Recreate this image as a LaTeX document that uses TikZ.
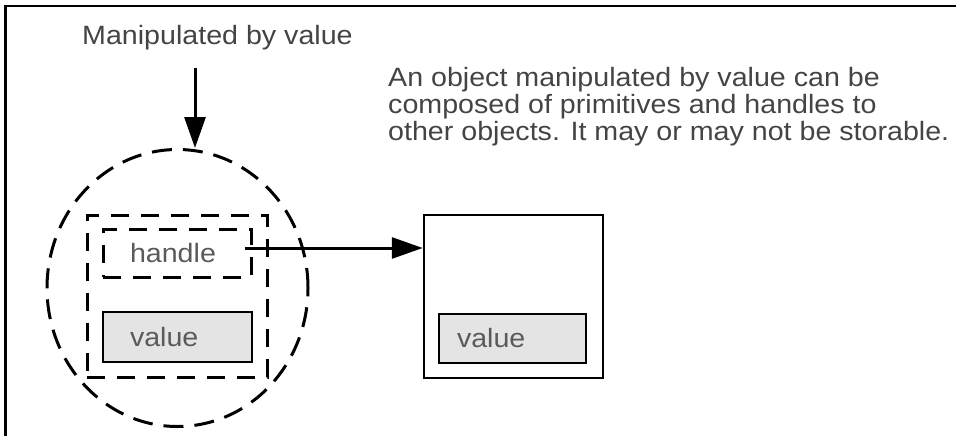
\documentclass[tikz,border=0pt]{standalone}
\usepackage{fontspec}
\setmainfont[FakeStretch=1.08]{Liberation Sans}
\usetikzlibrary{shapes.geometric,arrows.meta}
\definecolor{labelgray}{HTML}{444444}
\definecolor{boxtext}{HTML}{5A5A5A}
\definecolor{valuefill}{HTML}{E4E4E4}
\begin{document}
\begin{tikzpicture}[x=1pt,y=-1pt,font=\fontsize{26.5}{27}\selectfont,
  dashbox/.style={draw,line width=3pt,dash pattern=on 18pt off 12pt},
  slot/.style={text=boxtext,align=left,inner ysep=0pt,minimum height=48pt},
  pointer/.style={line width=3pt,-{Triangle[length=31pt,width=21pt]}}]
\useasboundingbox (0,0) rectangle (956,436);
\draw[line width=2.5pt] (5.5,436) -- (5.5,6) -- (956,6);

\begin{scope}[every node/.style={text=labelgray,inner sep=0pt}]
\node[anchor=base west] (ByValue) at (82,45) {Manipulated by value};
\node[anchor=base west,align=left] (Note) at (388,140) {An object manipulated by value can be\\
composed of primitives and handles to\\
other objects. It may or may not be storable.};
\end{scope}

\begin{scope}[inner sep=0pt]
\node[ellipse,dashbox,dash pattern=on 20pt off 11pt,minimum width=261pt,minimum height=277pt] (Object) at (177.5,288) {};
\node[dashbox,minimum width=180pt,minimum height=162pt] (Parts) at (177,296) {};
\node[dashbox,slot,text width=94pt,inner xsep=27pt] (Handle) at (177,253) {handle};
\node[draw,line width=2.5pt,fill=valuefill,slot,text width=95pt,inner xsep=27pt,minimum height=50pt] (Value) at (177.5,337) {value};
\node[draw,line width=2.5pt,minimum width=179pt,minimum height=163pt] (Stored) at (513.5,296.5) {};
\node[draw,line width=2.5pt,fill=valuefill,slot,text width=111pt,inner xsep=18pt,minimum height=49pt] (StoredValue) at (512.5,338.5) {value};
\end{scope}

\coordinate (Pin) at (195,68);
\coordinate (Tail) at ([xshift=-8pt,yshift=5pt]Handle.east);
\begin{scope}[every edge/.style={draw,pointer}]
    \path (Pin) edge (Pin |- Object.north);
    \path (Tail) edge (Tail -| Stored.west);
\end{scope}
\end{tikzpicture}
\end{document}
